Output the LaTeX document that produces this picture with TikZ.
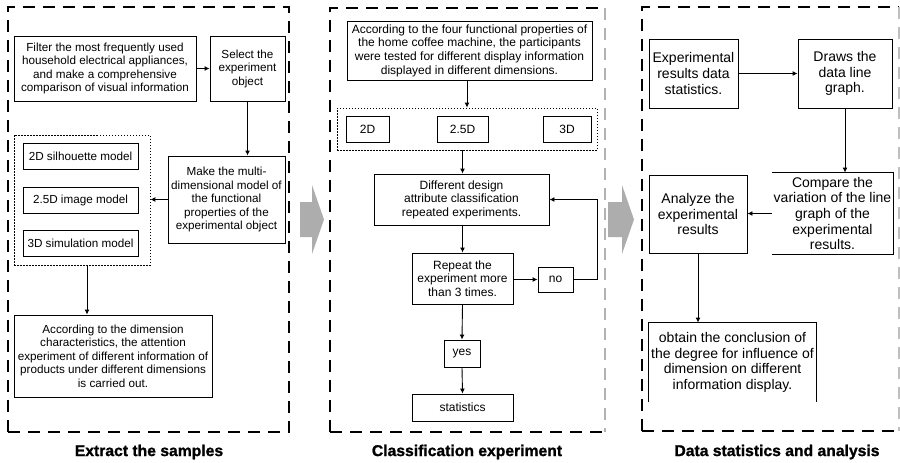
\documentclass[tikz,border=0pt]{standalone}
\usepackage{fontspec}
\setmainfont{Liberation Sans}
\newfontfamily\heavyfont[FakeBold=1.2]{Liberation Sans Bold}
\usetikzlibrary{arrows.meta}
\begin{document}
\begin{tikzpicture}[x=1pt,y=-1pt,
  box/.style={draw,line width=0.9pt,inner sep=0pt,align=center},
  sbox/.style={box,font=\fontsize{11.7}{13.5}\selectfont},
  mbox/.style={box,font=\fontsize{12}{13.6}\selectfont},
  rbox/.style={box,font=\fontsize{14}{15.6}\selectfont},
  arr/.style={line width=0.9pt,-{Latex[length=5pt,width=5pt]}},
  ln/.style={line width=0.9pt},
  panel/.style={line width=1.2pt,dash pattern=on 12pt off 8pt},
  grp/.style={draw,line width=0.8pt,dash pattern=on 1.5pt off 1.5pt,inner sep=0pt},
  lab/.style={font=\fontsize{15.7}{18}\heavyfont},
  bigarrow/.style={fill=black!32,draw=none}]
\useasboundingbox (0,0) rectangle (900,463);

% panels
\draw[panel] (8,432) -- (8,7) -- (289,7) -- (289,432) -- cycle;
\draw[panel] (330,432) -- (330,8) -- (605,8);
\draw[panel] (330,432) -- (605,432);
\draw[panel,black!30] (605,8) -- (605,432);
\draw[panel] (642,431) -- (642,7) -- (899,7);
\draw[panel] (642,431) -- (899,431);
\draw[panel,black!25] (899,7) -- (899,431);

% gray arrows
\fill[bigarrow] (300,202) -- (312,202) -- (312,185) -- (324,219.5) -- (312,254) -- (312,237) -- (300,237) -- cycle;
\fill[bigarrow] (608,202) -- (622,202) -- (622,185) -- (634,219.5) -- (622,254) -- (622,237) -- (608,237) -- cycle;

% left panel
\node[sbox,minimum width=182,minimum height=65] (filter) at (105,68.5)
  {Filter the most frequently used\\household electrical appliances,\\and make a comprehensive\\comparison of visual information};
\node[sbox,minimum width=75,minimum height=65] (select) at (247.5,68.5)
  {Select the\\experiment\\object};
\node[sbox,minimum width=117,minimum height=87] (make) at (226.5,199.5)
  {Make the multi-\\dimensional model of\\the functional\\properties of the\\experimental object};
\node[grp,minimum width=136,minimum height=130] (grpA) at (82,200) {};
\node[sbox,minimum width=115,minimum height=26] (m2d) at (80.5,156) {2D silhouette model};
\node[sbox,minimum width=115,minimum height=26] (m25) at (80.5,200) {2.5D image model};
\node[sbox,minimum width=115,minimum height=26] (m3d) at (80.5,243) {3D simulation model};
\node[sbox,minimum width=198,minimum height=82] (attn) at (113,356)
  {According to the dimension\\characteristics, the attention\\experiment of different information of\\products under different dimensions\\is carried out.};
\draw[arr] (filter.east) -- (select.west);
\draw[arr] (select.south) -- (select.south |- make.north);
\draw[arr] (make.west) -- (make.west -| grpA.east);
\draw[arr] ([xshift=5pt]grpA.south) -- ([xshift=5pt]grpA.south |- attn.north);

% middle panel
\node[mbox,minimum width=245,minimum height=59] (four) at (469.5,50.5)
  {According to the four functional properties of\\the home coffee machine, the participants\\were tested for different display information\\displayed in different dimensions.};
\node[grp,minimum width=260,minimum height=42] (grpB) at (467,129) {};
\node[mbox,minimum width=43,minimum height=26] (d2) at (367.5,129) {2D};
\node[mbox,minimum width=51,minimum height=26] (d25) at (462.5,129) {2.5D};
\node[mbox,minimum width=48,minimum height=26] (d3) at (567,129) {3D};
\node[mbox,minimum width=175,minimum height=51] (diff) at (461.5,199.5)
  {Different design\\attribute classification\\repeated experiments.};
\node[mbox,minimum width=101,minimum height=51] (rep) at (462.5,278.5)
  {Repeat the\\experiment more\\than 3 times.};
\node[mbox,minimum width=35,minimum height=25] (no) at (555.5,279.5) {no};
\node[mbox,minimum width=36,minimum height=27] (yes) at (462,353.5) {yes};
\node[mbox,minimum width=101,minimum height=27] (stats) at (462.5,407.5) {statistics};
\draw[arr] (four.south -| grpB.north) -- (grpB.north);
\draw[arr] (d25.south |- grpB.south) -- (d25.south |- diff.north);
\draw[arr] (d25.south |- diff.south) -- (d25.south |- rep.north);
\draw[arr] (rep.east |- no.west) -- (no.west);
\draw[arr] (no.east) -- ++(24,0) |- (diff.east);
\draw[arr] (rep.south) -- (yes.north);
\draw[arr] (yes.south) -- (stats.north);

% right panel
\node[rbox,minimum width=89,minimum height=69] (exp) at (693.5,73.5)
  {Experimental\\results data\\statistics.};
\node[rbox,minimum width=94,minimum height=69] (draws) at (845,73.5)
  {Draws the\\data line\\graph.};
\node[rbox,draw=none,minimum width=121,minimum height=81] (cmp) at (832.5,213.5)
  {Compare the\\variation of the line\\graph of the\\experimental\\results.};
\draw[ln] (cmp.north west) -- (cmp.north east) -- (cmp.south east) -- (cmp.south west);
\node[rbox,minimum width=98,minimum height=78] (ana) at (698,214)
  {Analyze the\\experimental\\results};
\node[rbox,draw=none,minimum width=167,minimum height=79] (concl) at (732.5,362.5)
  {obtain the conclusion of\\the degree for influence of\\dimension on different\\information display.};
\draw[ln] (concl.south west) -- (concl.north west) -- (concl.north east) -- (concl.south east);
\draw[arr] (exp.east) -- (draws.west);
\draw[arr] (draws.south) -- (draws.south |- cmp.north);
\draw[arr] (cmp.west) -- (cmp.west -| ana.east);
\draw[arr] (ana.south) -- (ana.south |- concl.north);

% labels
\node[lab] (labA) at (149,452) {Extract the samples};
\node[lab] (labB) at (467,452) {Classification experiment};
\node[lab] (labC) at (777,452) {Data statistics and analysis};
\end{tikzpicture}
\end{document}
